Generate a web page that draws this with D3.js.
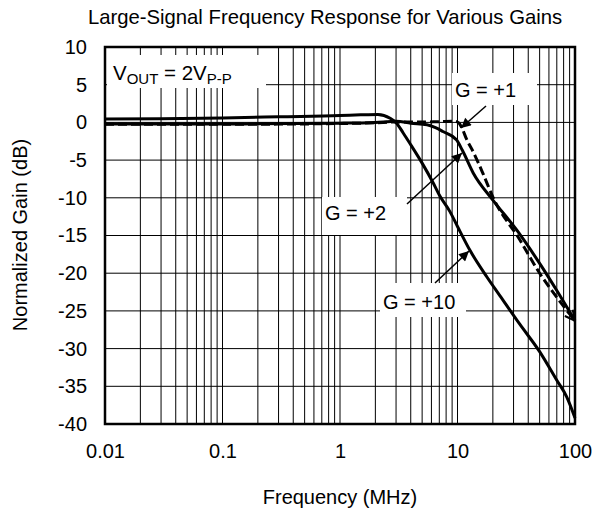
<!DOCTYPE html>
<html><head><meta charset="utf-8">
<script src="https://cdn.jsdelivr.net/npm/d3@7"></script>
<style>body{margin:0;background:#fff}svg{display:block}text{font-family:"Liberation Sans",Arial,sans-serif;fill:#000}</style>
</head><body><svg id="c" width="603" height="512"></svg>
<script>
// ---- data ----
const freqTicks = [0.01, 0.1, 1, 10, 100];
const freqTickLabels = ["0.01", "0.1", "1", "10", "100"];
const gainTicks = [10, 5, 0, -5, -10, -15, -20, -25, -30, -35, -40];
const gainTickLabels = ["10", "5", "0", "-5", "-10", "-15", "-20", "-25", "-30", "-35", "-40"];

const freqG10 = [0.01,0.03,0.1,0.3,1,1.5,2.1,2.67,3.03,3.45,3.94,5,6.2,7.1,8.6,10,12.8,17.8,23,34,50,70,85,100];
const gainG10 = [0.45,0.5,0.6,0.75,0.9,1.0,1.05,0.55,-0.1,-1.4,-2.8,-5.4,-8,-9.8,-11.8,-13.8,-17,-20.5,-23.0,-26.8,-30.4,-34.2,-36.4,-39.2];

const freqG2 = [0.01,0.1,1,2,3,4,5.5,6.5,7.5,9.8,11,13.6,20,32,50,70,100];
const gainG2 = [-0.2,-0.2,-0.1,0.0,0.15,-0.1,-0.3,-0.7,-1.2,-2.3,-3.7,-6.7,-10.3,-14.3,-18.7,-22.3,-26.3];

const freqG1 = [0.01,0.1,1,2,3,5,7,9.5,10.3,10.8,12,13.6,16.6,20,34,50,70,100];
const gainG1 = [-0.25,-0.25,-0.15,-0.05,0.05,0.05,0.1,0.15,-0.1,-0.6,-2.3,-3.9,-6.9,-9.9,-15.6,-20,-23.2,-26.3];

// ---- chart ----
const svg = d3.select("#c");
const L = 105, R = 575, T = 47, B = 424;
const x = d3.scaleLog().domain([0.01, 100]).range([L, R]);
const y = d3.scaleLinear().domain([-40, 10]).range([B, T]);

// grid
const grid = svg.append("g").attr("stroke", "#000").attr("stroke-width", 1);
grid.selectAll(".v").data(x.ticks()).join("line")
  .attr("x1", d => x(d)).attr("x2", d => x(d)).attr("y1", T).attr("y2", B);
grid.selectAll(".h").data(gainTicks).join("line")
  .attr("x1", L).attr("x2", R).attr("y1", d => y(d)).attr("y2", d => y(d));

// axes labels
const ax = svg.append("g").attr("transform", `translate(0,${B})`)
  .call(d3.axisBottom(x).tickValues(freqTicks).tickFormat((d, i) => freqTickLabels[i]).tickSize(0).tickPadding(20));
ax.select(".domain").remove();
ax.selectAll("text").attr("font-size", 20).attr("font-family", null);
const ay = svg.append("g").attr("transform", `translate(${L},0)`)
  .call(d3.axisLeft(y).tickValues(gainTicks).tickFormat((d, i) => gainTickLabels[i]).tickSize(0).tickPadding(18));
ay.select(".domain").remove();
ay.selectAll("text").attr("font-size", 20).attr("font-family", null);
svg.selectAll(".tick text").attr("fill", "#000");

// annotation boxes
function box(x0, y0, x1, y1) {
  svg.append("rect").attr("x", x0).attr("y", y0).attr("width", x1 - x0).attr("height", y1 - y0).attr("fill", "#fff");
}
box(107, 55, 266, 88);
box(452, 73, 537, 105);
box(322, 197, 407, 235);
box(380, 283, 466, 317);

// markers
const defs = svg.append("defs");
defs.append("marker").attr("id", "ah").attr("viewBox", "0 0 10 10").attr("refX", 10).attr("refY", 5)
  .attr("markerWidth", 13).attr("markerHeight", 10).attr("markerUnits", "userSpaceOnUse").attr("orient", "auto")
  .append("path").attr("d", "M0,0L10,5L0,10Z").attr("fill", "#000");
defs.append("marker").attr("id", "oh").attr("viewBox", "0 0 12 12").attr("refX", 11).attr("refY", 6)
  .attr("markerWidth", 12).attr("markerHeight", 12).attr("markerUnits", "userSpaceOnUse").attr("orient", "auto")
  .append("path").attr("d", "M1,1L11,6L1,11").attr("fill", "none").attr("stroke", "#000").attr("stroke-width", 2);

// curves
const line = d3.line().x(d => x(d[0])).y(d => y(d[1])).curve(d3.curveMonotoneX);
const zip = (f, g) => f.map((v, i) => [v, g[i]]);
svg.append("path").attr("d", line(zip(freqG2, gainG2))).attr("fill", "none").attr("stroke", "#000").attr("stroke-width", 3);
svg.append("path").attr("d", line(zip(freqG1, gainG1))).attr("fill", "none").attr("stroke", "#000").attr("stroke-width", 3)
  .attr("stroke-dasharray", "9,4").attr("marker-end", "url(#oh)");
svg.append("path").attr("d", line(zip(freqG10, gainG10))).attr("fill", "none").attr("stroke", "#000").attr("stroke-width", 3);

// arrows
function arrow(x0, y0, x1, y1) {
  svg.append("line").attr("x1", x0).attr("y1", y0).attr("x2", x1).attr("y2", y1)
    .attr("stroke", "#000").attr("stroke-width", 1.5).attr("marker-end", "url(#ah)");
}
arrow(486, 106, 461, 128);
arrow(407, 204, 462, 153);
arrow(435, 283, 469, 251);

// annotation texts
const vt = svg.append("text").attr("x", 113).attr("y", 80).attr("font-size", 20.5);
vt.append("tspan").text("V");
vt.append("tspan").attr("font-size", 15).attr("dy", 4).text("OUT");
vt.append("tspan").attr("dy", -4).text(" = 2V");
vt.append("tspan").attr("font-size", 15).attr("dy", 4).text("P-P");
svg.append("text").attr("x", 455).attr("y", 97).attr("font-size", 20).text("G = +1");
svg.append("text").attr("x", 325).attr("y", 220).attr("font-size", 20).text("G = +2");
svg.append("text").attr("x", 383).attr("y", 309).attr("font-size", 20).text("G = +10");

// frame
svg.append("rect").attr("x", L).attr("y", T).attr("width", R - L).attr("height", B - T)
  .attr("fill", "none").attr("stroke", "#000").attr("stroke-width", 2.5);

// titles
svg.append("text").attr("x", 325).attr("y", 24).attr("text-anchor", "middle").attr("font-size", 20.3)
  .text("Large-Signal Frequency Response for Various Gains");
svg.append("text").attr("x", 340).attr("y", 504).attr("text-anchor", "middle").attr("font-size", 20)
  .text("Frequency (MHz)");
svg.append("text").attr("transform", "translate(27,235) rotate(-90)").attr("text-anchor", "middle").attr("font-size", 20)
  .text("Normalized Gain (dB)");
</script></body></html>
